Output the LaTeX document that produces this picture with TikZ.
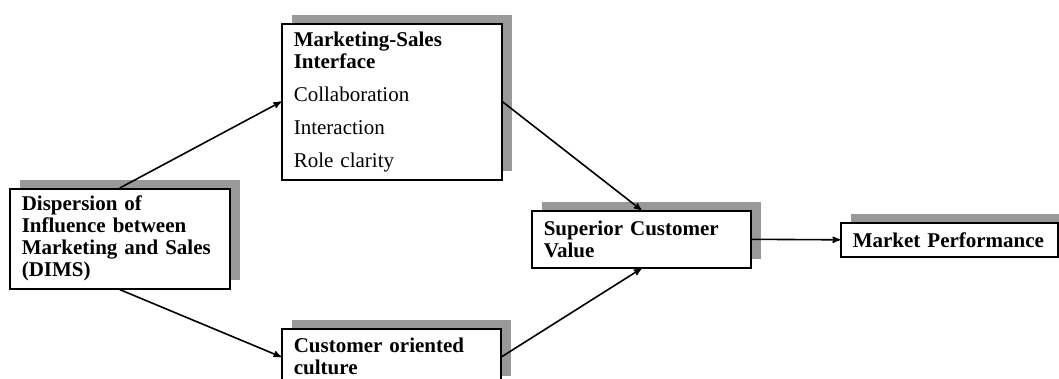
\documentclass[tikz,border=0pt]{standalone}
\usepackage{fontspec}
\setmainfont{Liberation Serif}
\usepackage{tikz}
\usetikzlibrary{arrows,shadows,positioning}

\definecolor{shadowgray}{gray}{0.6}

\tikzset{
	every node/.style={
		font=\fontsize{21}{22}\selectfont
	},
	construct/.style={
		shape=rectangle,
		draw,
		fill=white,
		line width=1.6pt,
		anchor=north west,
		inner xsep=12pt,
		inner ysep=0pt,
		align=left,
		drop shadow={shadow xshift=10pt,shadow yshift=9pt,fill=shadowgray,opacity=1}
	},
	link/.style={
		->,
		line width=1.6pt
	}
}

\begin{document}
\begin{tikzpicture}[>=stealth',x=1pt,y=-1pt]
	\clip (0,0) rectangle (1059,378);

	\node[construct, text width=196pt, minimum height=100pt] (dims) at (9,188)
		{\textbf{Dispersion of}\\\textbf{Influence between}\\\textbf{Marketing and Sales}\\\textbf{(DIMS)}};
	\node[construct, text width=196pt, minimum height=156pt] (msi) at (281,23)
		{\textbf{Marketing-Sales}\\\textbf{Interface}\\[11pt]Collaboration\\[11pt]Interaction\\[11pt]Role clarity};
	\node[construct, text width=195pt, minimum height=56pt] (culture) at (281,328)
		{\textbf{Customer oriented}\\\textbf{culture}};
	\node[construct, text width=195pt, minimum height=57pt] (value) at (531,210)
		{\textbf{Superior Customer}\\\textbf{Value}};
	\node[construct, text width=193pt, minimum height=34pt] (perf) at (840,222)
		{\textbf{Market Performance}};

	\draw[link] (dims.north) -- (msi.west);
	\draw[link] (dims.south) -- (culture.west);
	\draw[link] (msi.east) -- (value.north);
	\draw[link] (culture.east) -- (value.south);
	\draw[link] (value.east) -- (perf.west);
\end{tikzpicture}
\end{document}
